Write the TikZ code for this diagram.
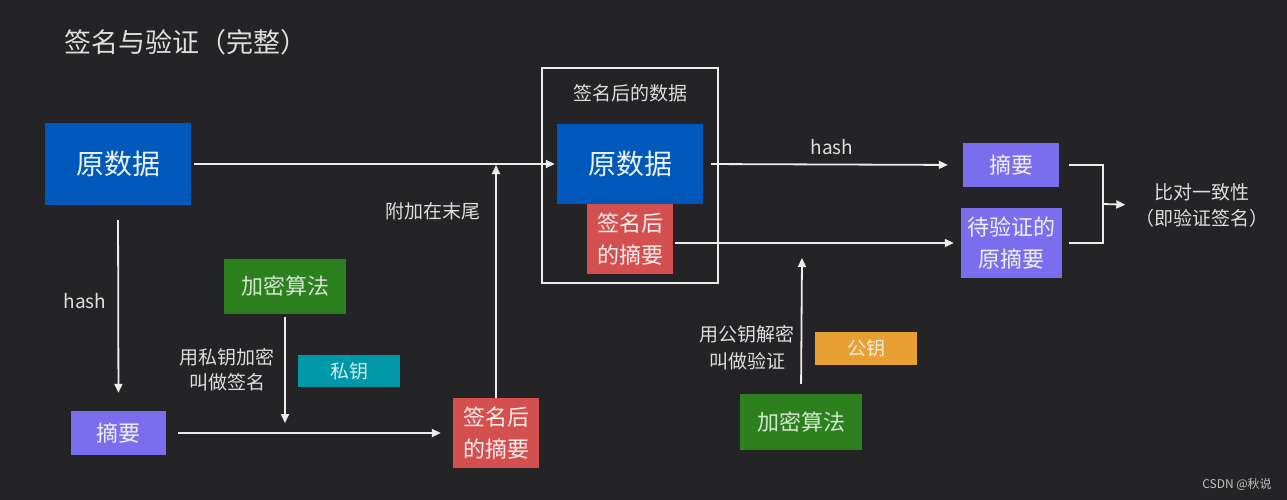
\documentclass[tikz,border=0pt]{standalone}
\usepackage{fontspec}
\setmainfont{Noto Sans CJK SC}
\usetikzlibrary{arrows.meta}
\definecolor{bg}{RGB}{36,35,38}
\definecolor{cblue}{RGB}{0,88,186}
\definecolor{cred}{RGB}{212,80,78}
\definecolor{cpurple}{RGB}{122,110,238}
\definecolor{cgreen}{RGB}{44,128,30}
\definecolor{cteal}{RGB}{0,152,168}
\definecolor{corange}{RGB}{232,160,50}
\definecolor{ctext}{RGB}{222,222,222}
\definecolor{cline}{RGB}{236,236,236}
\newcommand{\fs}[2]{\fontsize{#1pt}{#2pt}\selectfont}
\tikzset{
  boxnode/.style={rectangle, inner sep=0pt, align=center},
  lbl/.style={inner sep=0pt, align=center, text=ctext},
  conn/.style={draw=cline, line width=1.8pt, -{Triangle[length=9pt,width=8pt]}},
  plainline/.style={draw=cline, line width=1.8pt},
}
\begin{document}
\begin{tikzpicture}[x=1pt,y=-1pt]
\fill[bg] (0,0) rectangle (1287,500);
\useasboundingbox (0,0) rectangle (1287,500);

% title
\node[lbl, anchor=west, font=\fs{27}{32}] (title) at (64,42) {签名与验证（完整）};

% left part
\node[boxnode, fill=cblue, minimum width=146pt, minimum height=82pt, text=white!92!cblue, font=\fs{28}{34}] (yuan1) at (118,164) {原数据};
\node[boxnode, fill=cpurple, minimum width=95pt, minimum height=44pt, text=white!90!cpurple, font=\fs{22}{32}] (zhai1) at (118.5,433) {摘要};
\node[boxnode, fill=cgreen, minimum width=122pt, minimum height=55pt, text=white!80!cgreen, font=\fs{22}{32}] (jm1) at (285,286) {加密算法};
\node[boxnode, fill=cteal, minimum width=102pt, minimum height=32pt, text=white!82!cteal, font=\fs{19}{26}] (sy) at (349,371) {私钥};
\node[boxnode, fill=cred, minimum width=86pt, minimum height=70pt, text=white!92!cred, font=\fs{22}{32}] (red1) at (496,433) {签名后\\的摘要};

% center group
\node[draw=cline, line width=1.6pt, minimum width=176pt, minimum height=215pt, inner sep=0pt] (outer) at (630,175.5) {};
\node[lbl, font=\fs{19}{26}] (sdata) at (630,93) {签名后的数据};
\node[boxnode, fill=cblue, minimum width=146pt, minimum height=80pt, text=white!92!cblue, font=\fs{28}{34}] (yuan2) at (630,164) {原数据};
\node[boxnode, fill=cred, minimum width=86pt, minimum height=70pt, text=white!92!cred, font=\fs{22}{32}] (red2) at (630,239) {签名后\\的摘要};

% right part
\node[boxnode, fill=cpurple, minimum width=96pt, minimum height=44pt, text=white!90!cpurple, font=\fs{22}{32}] (zhai2) at (1011,165) {摘要};
\node[boxnode, fill=cpurple, minimum width=101pt, minimum height=70pt, text=white!90!cpurple, font=\fs{22}{32}] (dai) at (1011.5,243) {待验证的\\原摘要};
\node[lbl, font=\fs{19}{26}] (result) at (1202,205) {比对一致性\\（即验证签名）};
\node[boxnode, fill=cgreen, minimum width=122pt, minimum height=56pt, text=white!80!cgreen, font=\fs{22}{32}] (jm2) at (801,422) {加密算法};
\node[boxnode, fill=corange, minimum width=102pt, minimum height=33pt, text=white!82!corange, font=\fs{19}{26}] (gy) at (866,348) {公钥};

% labels
\node[lbl, font=\fs{19}{26}] (hash1) at (85,301) {hash};
\node[lbl, font=\fs{19}{25}] (sign) at (227,370) {用私钥加密\\叫做签名};
\node[lbl, font=\fs{19}{26}] (append) at (433,211) {附加在末尾};
\node[lbl, font=\fs{19}{26}] (hash2) at (832,147) {hash};
\node[lbl, font=\fs{19}{27}] (verify) at (747,348) {用公钥解密\\叫做验证};
\node[inner sep=0pt, text=ctext!85!bg, font=\fs{12}{14}] (wm) at (1237,484) {CSDN @秋说};

% helper coordinates
\coordinate (c1) at (285,433);
\coordinate (c2) at (496,165);
\coordinate (c3) at (802,258);
\coordinate (bm) at (1103,204);

% connectors
\draw[conn, shorten <=3pt, shorten >=2pt] (yuan1.east) -- (yuan2.west);
\draw[conn, shorten <=15pt, shorten >=18pt] (yuan1.south) -- (zhai1.north);
\draw[conn, shorten <=12pt, shorten >=12pt] (zhai1.east) -- (red1.west);
\draw[conn, shorten <=3pt, shorten >=10pt] (jm1.south) -- (c1);
\draw[conn] (red1.north) -- (c2);
\draw[conn, shorten <=8pt, shorten >=15pt] (yuan2.east) -- (zhai2.west);
\draw[conn, shorten <=2pt, shorten >=7pt] (red2.east |- dai.west) -- (dai.west);
\draw[conn, shorten <=10pt] (jm2.north) -- (c3);
\draw[plainline] ([xshift=10pt]zhai2.east) -| (bm) |- ([xshift=7pt]dai.east);
\draw[conn, shorten >=10pt] (bm) -- (result.west);
\end{tikzpicture}
\end{document}
